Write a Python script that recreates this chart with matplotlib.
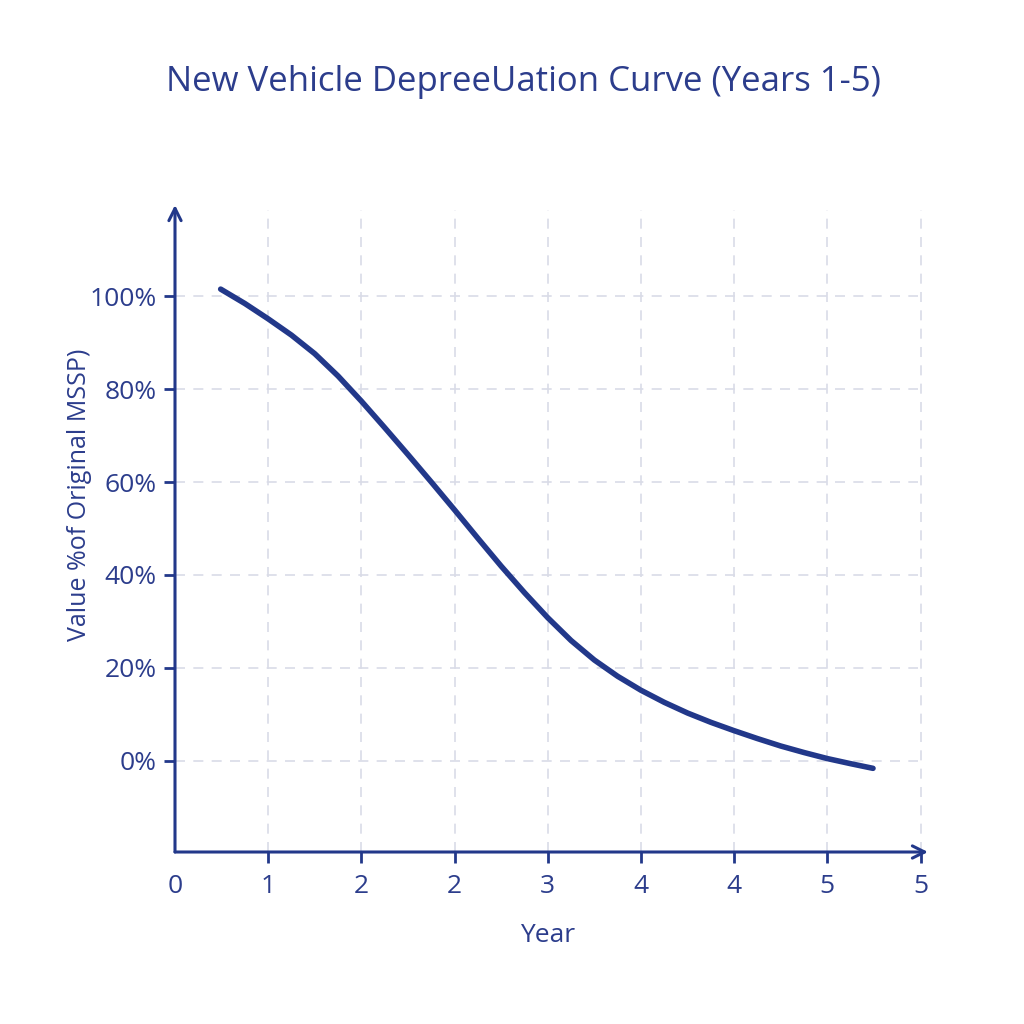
import matplotlib.pyplot as plt
import numpy as np

plt.rcParams['font.family'] = ['Open Sans', 'DejaVu Sans']

# data (x in tick-slot units)
years = [0.49, 0.75, 1.0, 1.25, 1.5, 1.75, 2.0, 2.25, 2.5, 2.75, 3.0, 3.25, 3.5, 3.75,
         4.0, 4.25, 4.5, 4.75, 5.0, 5.25, 5.5, 5.75, 6.0, 6.25, 6.5, 6.75, 7.0, 7.25, 7.49]
value_pct = [101.5, 98.4, 95.1, 91.6, 87.6, 82.8, 77.4, 71.7, 65.9, 60.0, 54.0, 47.9, 41.9, 36.2,
             30.8, 25.9, 21.7, 18.2, 15.2, 12.6, 10.3, 8.3, 6.5, 4.8, 3.2, 1.8, 0.5, -0.6, -1.6]
x_ticks = [0, 1, 2, 3, 4, 5, 6, 7, 8]
x_labels = ['0', '1', '2', '2', '3', '4', '4', '5', '5']
y_ticks = [0, 20, 40, 60, 80, 100]
y_labels = ['0%', '20%', '40%', '60%', '80%', '100%']

navy = '#22388a'
text_c = '#2c3d8c'
grid_c = '#d9dbe7'

fig = plt.figure(figsize=(10.24, 10.24), dpi=100)
ax = fig.add_axes([175 / 1024, 1 - 852 / 1024, (928 - 175) / 1024, (852 - 205) / 1024])
ax.set_xlim(0, 8.08)
ax.set_ylim(-19.6, 119.6)

# grid
for x in x_ticks[1:]:
    ax.plot([x, x], [-19.6, 118.5], color=grid_c, lw=1.2, ls=(0, (6, 5)), zorder=1)
for y in y_ticks:
    ax.plot([0, 7.97], [y, y], color=grid_c, lw=1.2, ls=(0, (6, 5)), zorder=1)

ax.plot(years, value_pct, color=navy, lw=4, solid_capstyle='round', solid_joinstyle='round', zorder=3)

# axes with arrows
for s in ax.spines.values():
    s.set_visible(False)
ax.annotate('', xy=(1, 0), xytext=(0, 0), xycoords='axes fraction',
            arrowprops=dict(arrowstyle='->', color=navy, lw=2.2, mutation_scale=22, shrinkA=0, shrinkB=0))
ax.annotate('', xy=(0, 1), xytext=(0, 0), xycoords='axes fraction',
            arrowprops=dict(arrowstyle='->', color=navy, lw=2.2, mutation_scale=22, shrinkA=0, shrinkB=0))

ax.set_xticks(x_ticks)
ax.set_xticklabels(x_labels)
ax.set_yticks(y_ticks)
ax.set_yticklabels(y_labels)
ax.tick_params(axis='both', colors=navy, labelcolor=text_c, labelsize=19, length=8, width=2, direction='out')
ax.tick_params(axis='x', pad=8)
ax.tick_params(axis='y', pad=5)
ax.xaxis.get_major_ticks()[0].tick1line.set_visible(False)

fig.text(0.511, 0.92, 'New Vehicle DepreeUation Curve (Years 1-5)', ha='center', va='center',
         fontsize=25, color=text_c)
fig.text(548 / 1024, 1 - 935 / 1024, 'Year', ha='center', va='center', fontsize=19, color=text_c)
fig.text(80 / 1024, 1 - 495 / 1024, 'Value %of Original MSSP)', ha='center', va='center',
         rotation=90, fontsize=18, color=text_c)

fig.savefig('out.png', dpi=100, facecolor='white')
